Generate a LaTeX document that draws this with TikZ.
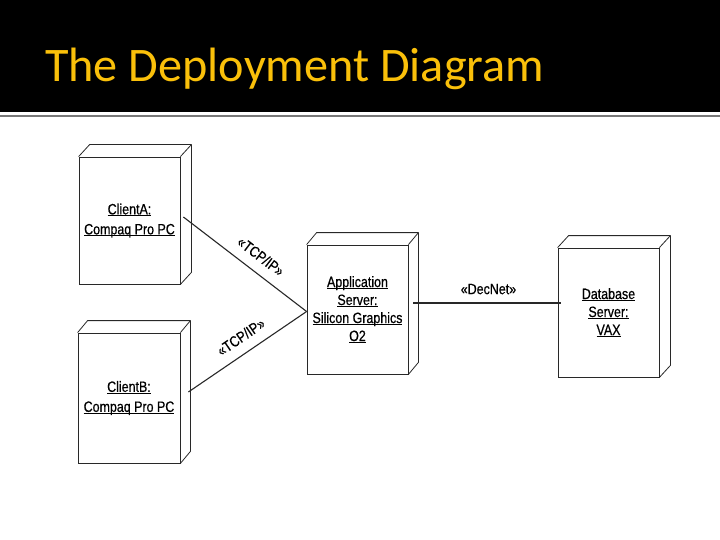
\documentclass[tikz,border=0pt]{standalone}
\usepackage{fontspec}
\usetikzlibrary{calc}
\newfontfamily\titlefont{Carlito}
\newfontfamily\diagfont[FakeStretch=0.83,FakeBold=0.6]{Liberation Sans}
\definecolor{titlegold}{RGB}{250,192,10}
\definecolor{inkgray}{RGB}{40,40,40}
\definecolor{rulegray}{RGB}{120,120,120}
\newcommand\ulin[1]{\setbox0\hbox{#1}\rlap{\rule[-1.8pt]{\wd0}{0.9pt}}\box0}
\tikzset{
  devbox/.style={draw=inkgray, line width=0.8pt, minimum width=101pt, minimum height=128pt,
    inner sep=0pt, align=center, font=\diagfont\fontsize{15}{18}\selectfont},
  boxline/.style={draw=inkgray, line width=0.8pt, line join=round},
  link/.style={draw=inkgray, line width=1.1pt},
  linklabel/.style={font=\diagfont\fontsize{15}{17}\selectfont, inner sep=1pt, text=black}
}
\newcommand\depthfaces[3]{%
  \draw[boxline] (#1.north west) -- ++(#2,#3) -- ($(#1.north east)+(#2,#3)$)
     -- ($(#1.south east)+(#2,#3)$) -- (#1.south east);
  \draw[boxline] (#1.north east) -- ++(#2,#3);
}
\begin{document}
\begin{tikzpicture}[x=1pt,y=-1pt]
\useasboundingbox (0,0) rectangle (720,540);
\fill[white] (0,0) rectangle (720,540);
\fill[black] (0,0) rectangle (720,112);
\fill[rulegray] (0,115) rectangle (720,117.5);
\node[anchor=base west, text=titlegold, inner sep=0pt,
      font=\titlefont\fontsize{48.2}{56}\selectfont] (title) at (45,81.5) {The Deployment Diagram};

\node[devbox, minimum height=127pt] (ca) at (129.5,220.5) {\ulin{ClientA:}\\[2pt]\ulin{Compaq Pro PC}};
\node[devbox, minimum width=102pt, minimum height=130pt] (cb) at (129,398) {\ulin{ClientB:}\\[2pt]\ulin{Compaq Pro PC}};
\node[devbox, minimum height=129pt] (app) at (357.5,309.5) {\ulin{Application}\\\ulin{Server:}\\\ulin{Silicon Graphics}\\\ulin{O2}};
\node[devbox, minimum height=129pt] (db) at (608.5,312.5) {\ulin{Database}\\\ulin{Server:}\\\ulin{VAX}};

\depthfaces{ca}{11}{-12}
\depthfaces{cb}{10}{-12}
\depthfaces{app}{10}{-12}
\depthfaces{db}{11}{-12}

\draw[link] ([xshift=3pt,yshift=3.5pt]ca.east) -- ([yshift=-2pt]app.west)
  node[linklabel, sloped, above=9pt, pos=0.55] (l1) {«TCP/IP»};
\draw[link] ([xshift=8pt,yshift=6pt]cb.east) -- ([yshift=-2pt]app.west)
  node[linklabel, sloped, above=9pt, pos=0.52] (l2) {«TCP/IP»};
\coordinate (d1) at ([xshift=5pt,yshift=6.5pt]app.east);
\draw[link, line width=1.4pt] (d1) -- ([xshift=3pt]d1 -| db.west)
  node[linklabel, above=7pt, pos=0.51] (l3) {«DecNet»};
\end{tikzpicture}
\end{document}
